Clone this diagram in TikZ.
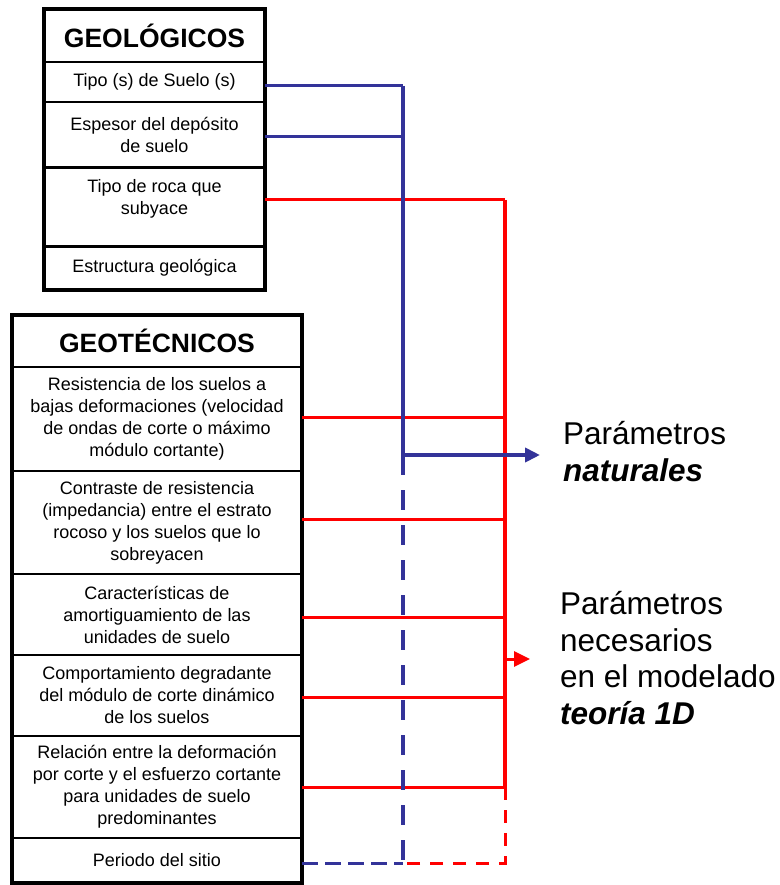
\documentclass[tikz,border=0pt]{standalone}
\usepackage{fontspec}
\setmainfont{Liberation Sans}
\usetikzlibrary{arrows.meta}

\definecolor{natblue}{RGB}{51,51,153}
\definecolor{modred}{RGB}{255,0,0}

\tikzset{
  cell/.style={draw, line width=1.5pt, inner sep=0pt, outer sep=0pt, align=center,
    font=\fontsize{18}{22}\selectfont},
  geocell/.style={cell, minimum width=221pt},
  gtcell/.style={cell, minimum width=290pt},
  headcell/.style={font=\fontsize{26.5}{30}\selectfont\bfseries},
  frame/.style={draw, line width=4pt},
  blueline/.style={natblue, line width=3pt},
  bluedash/.style={natblue, line width=3.5pt, dash pattern=on 20pt off 15pt},
  redline/.style={modred, line width=3pt},
  reddash/.style={modred, line width=3pt, dash pattern=on 13pt off 10pt},
  outcome/.style={anchor=west, inner sep=0pt, align=left,
    font=\fontsize{31.5}{36.5}\selectfont},
}

\begin{document}
\begin{tikzpicture}[x=1pt,y=-1pt]
\useasboundingbox (0,0) rectangle (779,885);

% geologicos
\node[geocell, headcell, minimum height=53pt] (geot) at (154.5,35.5) {GEOLÓGICOS};
\node[geocell, minimum height=40pt] (geo1) at (154.5,82) {Tipo (s) de Suelo (s)};
\node[geocell, minimum height=65pt] (geo2) at (154.5,134.5) {Espesor del depósito\\de suelo};
\node[geocell, minimum height=79pt] (geo3) at (154.5,207.5) {Tipo de roca que\\subyace\\ };
\node[geocell, minimum height=44pt] (geo4) at (154.5,268) {Estructura geológica};
\draw[frame] (geot.north west) rectangle (geo4.south east);

% geotecnicos
\node[gtcell, headcell, minimum height=52pt] (gtt) at (157,341) {GEOTÉCNICOS};
\node[gtcell, minimum height=104pt] (gt1) at (157,419) {Resistencia de los suelos a\\bajas deformaciones (velocidad\\de ondas de corte o máximo\\módulo cortante)};
\node[gtcell, minimum height=103pt] (gt2) at (157,522.5) {Contraste de resistencia\\(impedancia) entre el estrato\\rocoso y los suelos que lo\\sobreyacen};
\node[gtcell, minimum height=81pt] (gt3) at (157,614.5) {Características de\\amortiguamiento de las\\unidades de suelo};
\node[gtcell, minimum height=81pt] (gt4) at (157,695.5) {Comportamiento degradante\\del módulo de corte dinámico\\de los suelos};
\node[gtcell, minimum height=102pt] (gt5) at (157,787) {Relación entre la deformación\\por corte y el esfuerzo cortante\\para unidades de suelo\\predominantes};
\node[gtcell, minimum height=45pt] (gt6) at (157,860.5) {Periodo del sitio};
\draw[frame] (gtt.north west) rectangle (gt6.south east);

% resultados
\node[outcome] (nat) at (563,451.5) {Parámetros\\\textbf{\textit{naturales}}};
\node[outcome] (nec) at (560,658) {Parámetros\\necesarios\\en el modelado\\\textbf{\textit{teoría 1D}}};

% puntos de los buses
\coordinate (b1) at (403,86);
\coordinate (b2) at (403,137);
\coordinate (bsplit) at (403,455);
\coordinate (bend) at (403,863);
\coordinate (r0) at (505,200);
\coordinate (r1) at (505,417);
\coordinate (r2) at (505,519);
\coordinate (r3) at (505,617);
\coordinate (r4) at (505,697);
\coordinate (r5) at (505,787);
\coordinate (rmid) at (505,659);
\coordinate (rend) at (505,863);

% rojo
\draw[redline] (geo3.east |- r0) -- (r0);
\draw[modred, line width=4pt] (r0) -- (r5);
\foreach \i in {1,...,5}
  \draw[redline] (gt\i.east |- r\i) -- (r\i);
\draw[reddash] (r5) -- (rend) -- (bend);
\draw[redline, -{Triangle[length=16pt,width=15pt]}, shorten >=30pt] (rmid) -- (rmid -| nec.west);

% azul
\draw[blueline] (geo1.east |- b1) -- (b1);
\draw[blueline] (geo2.east |- b2) -- (b2);
\draw[natblue, line width=3.5pt] (b1) -- (bsplit);
\draw[bluedash] (bsplit) -- (bend);
\draw[blueline, dash pattern=on 16pt off 7pt] (gt6.east |- bend) -- (bend);
\draw[natblue, line width=4pt, -{Triangle[length=15pt,width=14pt]}, shorten >=23pt] (bsplit) -- (bsplit -| nat.west);

\end{tikzpicture}
\end{document}
